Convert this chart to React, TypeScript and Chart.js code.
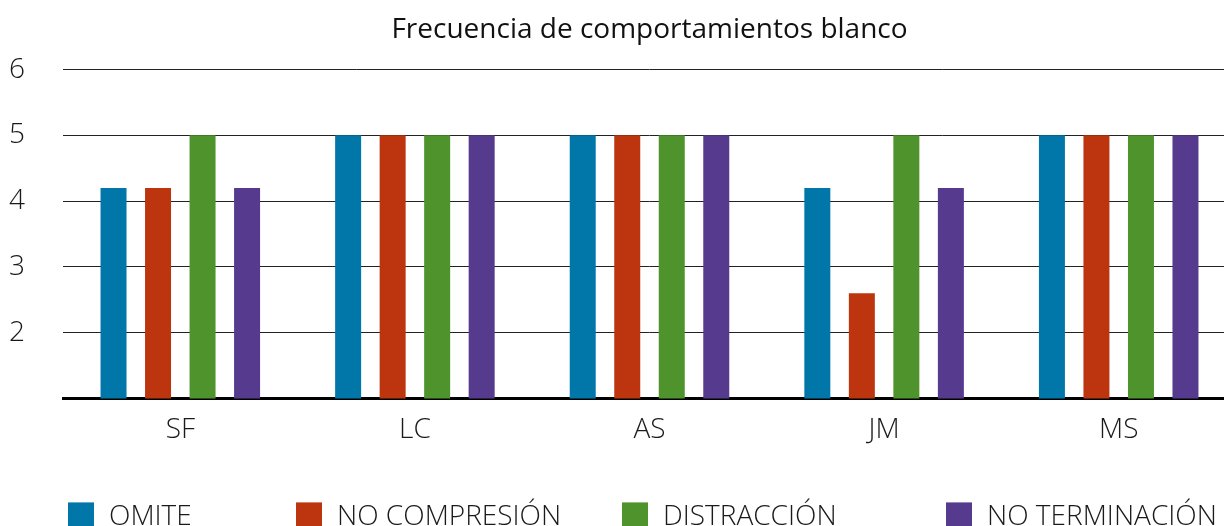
import React, { useEffect, useRef } from "react";
import { Chart, registerables } from "chart.js";

Chart.register(...registerables);

const TITLE = "Frecuencia de comportamientos blanco";
const categories = ["SF", "LC", "AS", "JM", "MS"];
const seriesNames = ["OMITE", "NO COMPRESIÓN", "DISTRACCIÓN", "NO TERMINACIÓN"];
const omite = [4.2, 5, 5, 4.2, 5];
const noCompresion = [4.2, 5, 5, 2.6, 5];
const distraccion = [5, 5, 5, 5, 5];
const noTerminacion = [4.2, 5, 5, 4.2, 5];
const yTicks = [2, 3, 4, 5, 6];

const COLORS = ["#0077A8", "#BC350E", "#4E932B", "#563A8E"];
const FONT = "'Open Sans', 'Noto Sans', sans-serif";
const LEGEND_X = [68, 296, 622, 946];

const CW = 1236;
const CH = 545;

const legendPlugin = {
  id: "customLegend",
  afterDraw(chart: any) {
    const ctx = chart.ctx;
    const top = chart.chartArea.bottom + 104;
    ctx.save();
    ctx.font = `300 28px ${FONT}`;
    ctx.textBaseline = "middle";
    ctx.textAlign = "left";
    chart.data.datasets.forEach((ds: any, i: number) => {
      const x = LEGEND_X[i];
      ctx.fillStyle = ds.backgroundColor;
      ctx.fillRect(x, top, 26, 26);
      ctx.fillStyle = "#1a1a1a";
      ctx.fillText(ds.label, x + 41, top + 15);
    });
    ctx.restore();
  },
};

export default function App() {
  const ref = useRef<HTMLCanvasElement | null>(null);
  useEffect(() => {
    if (!ref.current) return;
    const values = [omite, noCompresion, distraccion, noTerminacion];
    const chart = new Chart(ref.current, {
      type: "bar",
      data: {
        labels: categories,
        datasets: seriesNames.map((name, i) => ({
          label: name,
          data: values[i],
          backgroundColor: COLORS[i],
          borderWidth: 0,
          barPercentage: 0.584,
          categoryPercentage: 0.759,
        })),
      },
      options: {
        responsive: false,
        animation: false,
        devicePixelRatio: 1,
        layout: { padding: { left: 9, right: 0, top: 0, bottom: 83 } },
        plugins: {
          legend: { display: false },
          tooltip: { enabled: false },
          title: {
            display: true,
            text: TITLE,
            fullSize: false,
            color: "#111",
            font: { family: FONT, size: 28, weight: "normal", lineHeight: 1.2 },
            padding: { top: 13, bottom: 23 },
          },
        },
        scales: {
          x: {
            grid: { display: false, drawTicks: false },
            border: { display: true, color: "#000", width: 3 },
            ticks: {
              color: "#1a1a1a",
              padding: 15,
              font: { family: FONT, size: 28, weight: "300", lineHeight: 1.2 },
            },
          },
          y: {
            min: 1,
            max: 6,
            afterFit: (s: any) => {
              s.width = 54;
            },
            afterBuildTicks: (s: any) => {
              s.ticks = [1, ...yTicks].map((v) => ({ value: v }));
            },
            grid: { color: "#222", lineWidth: 1, drawTicks: false },
            border: { display: false },
            ticks: {
              crossAlign: "far",
              color: "#1a1a1a",
              font: { family: FONT, size: 28, weight: "300", lineHeight: 1.2 },
              callback: (v: any) => (yTicks.includes(Number(v)) ? String(v) : ""),
            },
          },
        },
      },
      plugins: [legendPlugin],
    });
    return () => chart.destroy();
  }, []);

  return (
    <div
      style={{
        position: "fixed",
        left: 0,
        top: 0,
        width: 1224,
        height: 526,
        overflow: "hidden",
        background: "#fff",
      }}
    >
      <canvas ref={ref} width={CW} height={CH} style={{ display: "block", width: CW, height: CH }} />
    </div>
  );
}
